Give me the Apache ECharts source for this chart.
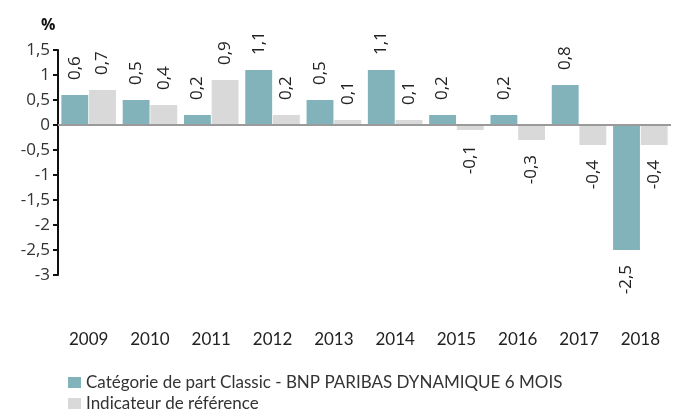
<!DOCTYPE html>
<html>
<head>
<meta charset="utf-8">
<script src="https://cdn.jsdelivr.net/npm/echarts@6/dist/echarts.min.js"></script>
<style>
	html,body{margin:0;padding:0;background:#fff;}
	#main{width:673px;height:413px;}
</style>
</head>
<body>
<div id="main"></div>
<script>
// données
var years = ['2009','2010','2011','2012','2013','2014','2015','2016','2017','2018'];
var fundValues = [0.6, 0.5, 0.2, 1.1, 0.5, 1.1, 0.2, 0.2, 0.8, -2.5];
var refValues = [0.7, 0.4, 0.9, 0.2, 0.1, 0.1, -0.1, -0.3, -0.4, -0.4];
var fundName = 'Catégorie de part Classic - BNP PARIBAS DYNAMIQUE 6 MOIS';
var refName = 'Indicateur de référence';

function comma(v){ return String(v).replace('.', ','); }

// étiquettes tournées : au-dessus si positif, en dessous si négatif
function withLabels(arr){
	return arr.map(function(v){
		if (v < 0) {
			return {value: v, label: {position: 'bottom', align: 'right'}};
		}
		return {value: v};
	});
}

var labelStyle = {
	show: true,
	position: 'top',
	rotate: 90,
	align: 'left',
	verticalAlign: 'middle',
	distance: 15,
	color: '#222',
	fontSize: 17,
	fontFamily: 'Open Sans',
	formatter: function(p){ return comma(p.value); }
};

var chart = echarts.init(document.getElementById('main'));
chart.setOption({
	animation: false,
	title: {
		text: '%',
		left: 36, top: 12,
		textStyle: {fontSize: 16, fontWeight: 'bold', color: '#111', fontFamily: 'Open Sans'}
	},
	legend: {
		orient: 'vertical',
		left: 68, top: 374,
		padding: 0,
		itemWidth: 13, itemHeight: 11, itemGap: 4,
		icon: 'rect',
		textStyle: {fontSize: 17, color: '#333', fontFamily: 'Lato'},
		data: [fundName, refName]
	},
	grid: {left: 58, right: 2, top: 50, bottom: 138},
	xAxis: {
		type: 'category',
		data: years,
		axisLine: {show: false, onZero: false},
		axisTick: {show: false},
		axisLabel: {margin: 56, fontSize: 17, color: '#222', fontFamily: 'Lato'}
	},
	yAxis: {
		type: 'value',
		min: -3, max: 1.5, interval: 0.5,
		axisLine: {show: true, lineStyle: {color: '#111', width: 2}},
		axisTick: {show: true, length: 5, lineStyle: {color: '#111', width: 2}},
		splitLine: {show: false},
		axisLabel: {margin: 8, fontSize: 17, color: '#333', fontFamily: 'Open Sans', formatter: comma}
	},
	series: [
		{
			name: fundName,
			type: 'bar',
			data: withLabels(fundValues),
			barGap: '3%',
			barCategoryGap: '11%',
			itemStyle: {color: '#82b3ba'},
			label: labelStyle,
			markLine: {
				silent: true,
				symbol: 'none',
				label: {show: false},
				lineStyle: {color: '#9a9a9a', width: 2, type: 'solid'},
				data: [{yAxis: 0}]
			}
		},
		{
			name: refName,
			type: 'bar',
			data: withLabels(refValues),
			barGap: '3%',
			barCategoryGap: '11%',
			itemStyle: {color: '#d9d9d9'},
			label: labelStyle
		}
	]
});
</script>
</body>
</html>
